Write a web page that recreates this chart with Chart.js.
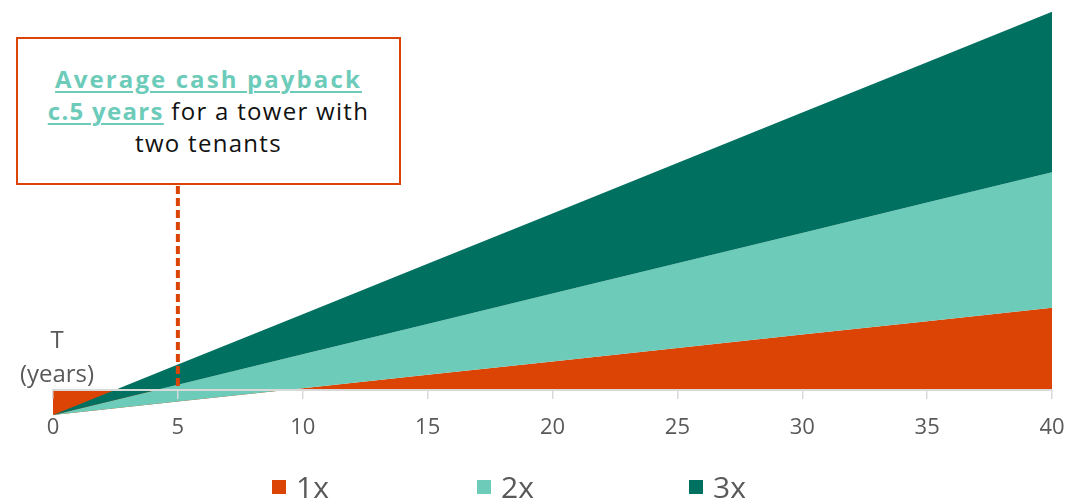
<!DOCTYPE html>
<html>
<head>
<meta charset="utf-8">
<script src="https://cdn.jsdelivr.net/npm/chart.js@4/dist/chart.umd.min.js"></script>
<style>
  html, body { margin: 0; padding: 0; background: #fff; overflow: hidden; }
  #wrap { position: relative; width: 1068px; height: 500px; font-family: "Open Sans", sans-serif; }
  canvas { position: absolute; left: 0; top: 0; }
  .note {
    position: absolute; left: 16px; top: 37px; width: 385px; height: 148px;
    box-sizing: border-box; border: 2px solid #DC4405; background: #fff;
    padding-top: 24px; text-align: center; font-size: 24px; line-height: 32px; color: #111;
    letter-spacing: 1.3px; white-space: nowrap;
  }
  .note .hl { color: #6DCBBA; font-weight: 700; text-decoration: underline; text-decoration-thickness: 2px; text-underline-offset: 3px; }
  .note .wide { letter-spacing: 2.1px; }
  .ylab { position: absolute; left: 7px; top: 322px; width: 100px; text-align: center; font-size: 24px; line-height: 34px; color: #595959; }
  .legend-item { position: absolute; top: 472px; display: flex; align-items: center; font-size: 30px; line-height: 30px; color: #595959; white-space: nowrap; }
  .legend-item .box { width: 14px; height: 14px; margin-right: 10px; }
</style>
</head>
<body>
<div id="wrap">
  <canvas id="c" width="1068" height="500"></canvas>
  <div class="note"><span class="hl wide">Average cash payback</span><br><span class="hl">c.5 years</span> for a tower with<br>two tenants</div>
  <div class="ylab">T<br>(years)</div>
  <div id="legend"></div>
</div>
<script>
// ---- data ----
const years = [0, 5, 10, 15, 20, 25, 30, 35, 40];
const seriesNames = ['1x', '2x', '3x'];
const oneX   = [-100, -46, 7, 61, 114, 168, 222, 275, 329];
const twoX   = [-100, 21, 143, 264, 386, 507, 628, 750, 871];
const threeX = [-100, 102, 303, 505, 706, 908, 1110, 1311, 1513];
const paybackYear = 5;
const colors = ['#DC4405', '#6DCBBA', '#007060'];
const legendLefts = [272, 477, 689];

const toPoints = arr => years.map((x, i) => ({ x: x, y: arr[i] }));

const dashPlugin = {
  id: 'paybackLine',
  afterDatasetsDraw(chart) {
    const ctx = chart.ctx;
    const x = chart.scales.x.getPixelForValue(paybackYear);
    const y0 = chart.scales.y.getPixelForValue(0);
    ctx.save();
    ctx.strokeStyle = '#DC4405';
    ctx.lineWidth = 4;
    ctx.setLineDash([8, 4]);
    ctx.beginPath();
    ctx.moveTo(x, 186);
    ctx.lineTo(x, y0);
    ctx.stroke();
    ctx.restore();
  }
};

new Chart(document.getElementById('c'), {
  type: 'line',
  data: {
    datasets: [
      { label: seriesNames[0], data: toPoints(oneX), backgroundColor: colors[0], borderWidth: 0, pointRadius: 0, fill: 'origin', order: 3 },
      { label: seriesNames[1], data: toPoints(twoX), backgroundColor: colors[1], borderWidth: 0, pointRadius: 0, fill: '-1', order: 2 },
      { label: seriesNames[2], data: toPoints(threeX), backgroundColor: colors[2], borderWidth: 0, pointRadius: 0, fill: '-1', order: 1 }
    ]
  },
  options: {
    responsive: false,
    animation: false,
    layout: { padding: { left: 53, right: 16, top: 12, bottom: 85 } },
    plugins: { legend: { display: false }, tooltip: { enabled: false } },
    scales: {
      x: {
        type: 'linear', min: 0, max: 40,
        position: { y: 0 },
        border: { display: true, color: '#D9D9D9', width: 2, z: 2 },
        grid: { drawOnChartArea: false, drawTicks: true, tickLength: 8, color: '#D9D9D9', lineWidth: 1.5, z: 2 },
        ticks: { stepSize: 5, padding: 2, color: '#595959', font: { family: 'Open Sans', size: 22, lineHeight: 2.56 }, z: 2 }
      },
      y: { display: false, min: -100, max: 1512 }
    }
  },
  plugins: [dashPlugin]
});

const legend = document.getElementById('legend');
seriesNames.forEach((name, i) => {
  const item = document.createElement('div');
  item.className = 'legend-item';
  item.style.left = legendLefts[i] + 'px';
  const box = document.createElement('span');
  box.className = 'box';
  box.style.background = colors[i];
  const txt = document.createElement('span');
  txt.textContent = name;
  item.appendChild(box);
  item.appendChild(txt);
  legend.appendChild(item);
});
</script>
</body>
</html>
